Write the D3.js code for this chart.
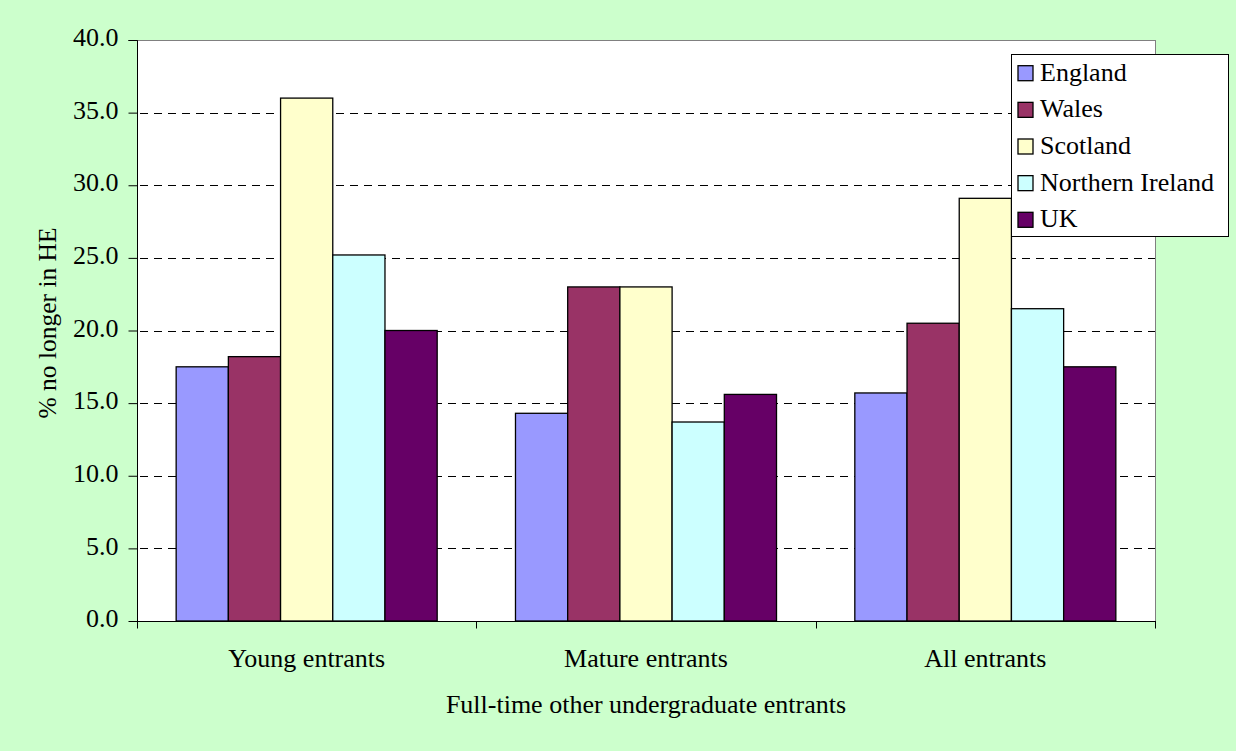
<!DOCTYPE html>
<html><head><meta charset="utf-8">
<script src="https://cdn.jsdelivr.net/npm/d3@7"></script>
<style>
html,body{margin:0;padding:0;background:#CCFFCC;}
svg{display:block;}
text{font-family:"Liberation Serif","DejaVu Serif",serif;fill:#000;}
</style></head>
<body>
<svg id="chart" width="1236" height="751"></svg>
<script>
const categories = ["Young entrants", "Mature entrants", "All entrants"];
const seriesNames = ["England", "Wales", "Scotland", "Northern Ireland", "UK"];
const seriesColors = ["#9999FF", "#993366", "#FFFFCC", "#CCFFFF", "#660066"];
const england = [17.5, 14.3, 15.7];
const wales = [18.2, 23.0, 20.5];
const scotland = [36.0, 23.0, 29.1];
const northernIreland = [25.2, 13.7, 21.5];
const uk = [20.0, 15.6, 17.5];
const yTicks = [0, 5, 10, 15, 20, 25, 30, 35, 40];
const xTitle = "Full-time other undergraduate entrants";
const yTitle = "% no longer in HE";

const seriesValues = [england, wales, scotland, northernIreland, uk];

const FS = 26;
const svg = d3.select("#chart");
const W = 1236, H = 751;
const m = {left: 137, right: 1155, top: 40, bottom: 621};

svg.append("rect").attr("x", 0).attr("y", 0).attr("width", W).attr("height", H).attr("fill", "#CCFFCC");

const x0 = d3.scaleBand().domain(categories).range([m.left, m.right]).paddingInner(0).paddingOuter(0);
const x1 = d3.scaleBand().domain(seriesNames).range([0, x0.bandwidth()]).paddingInner(0).paddingOuter(0.75);
const y = d3.scaleLinear().domain([0, 40]).range([m.bottom, m.top]);

// plot area
svg.append("rect").attr("x", m.left + 0.5).attr("y", m.top + 0.5).attr("width", m.right - m.left).attr("height", m.bottom - m.top)
  .attr("fill", "#fff").attr("stroke", "#808080").attr("stroke-width", 1);

// gridlines
svg.append("g").selectAll("line").data(yTicks.filter(t => t > 0 && t < 40)).join("line")
  .attr("x1", m.left + 3).attr("x2", m.right)
  .attr("y1", d => Math.round(y(d)) + 0.5).attr("y2", d => Math.round(y(d)) + 0.5)
  .attr("stroke", "#000").attr("stroke-dasharray", "8,6").attr("stroke-width", 1);

// bars
const groups = svg.append("g").selectAll("g").data(categories).join("g")
  .attr("transform", d => `translate(${x0(d)},0)`);
groups.selectAll("rect").data((c, ci) => seriesNames.map((s, si) => ({s, si, v: seriesValues[si][ci]})))
  .join("rect")
  .attr("x", d => x1(d.s))
  .attr("width", x1.bandwidth())
  .attr("y", d => y(d.v))
  .attr("height", d => y(0) - y(d.v))
  .attr("fill", d => seriesColors[d.si])
  .attr("stroke", "#000").attr("stroke-width", 1.3);

// y axis
const yAxis = d3.axisLeft(y).tickValues(yTicks).tickFormat(d3.format(".1f")).tickSize(9).tickPadding(10);
const ga = svg.append("g").attr("transform", `translate(${m.left + 0.5},0)`).call(yAxis);
ga.select(".domain").attr("stroke", "#000").attr("d", `M-9,${m.top + 0.5}H0V${m.bottom}`);
ga.selectAll(".tick line").attr("stroke", "#000");
ga.selectAll(".tick text").attr("font-size", FS).attr("dy", "0.22em");

// x axis
const gx = svg.append("g").attr("transform", `translate(0,${m.bottom + 0.5})`);
gx.append("line").attr("x1", m.left).attr("x2", m.right + 1).attr("stroke", "#000");
const tickXs = categories.map(c => x0(c)).concat([m.right]);
gx.selectAll("line.t").data(tickXs).join("line").attr("class", "t")
  .attr("x1", d => Math.round(d) + 0.5).attr("x2", d => Math.round(d) + 0.5).attr("y1", 0).attr("y2", 7).attr("stroke", "#000");
gx.selectAll("text").data(categories).join("text")
  .attr("x", d => x0(d) + x0.bandwidth() / 2).attr("y", 45)
  .attr("text-anchor", "middle").attr("font-size", FS).text(d => d);

// titles
svg.append("text").attr("x", (m.left + m.right) / 2).attr("y", 713).attr("text-anchor", "middle")
  .attr("font-size", FS).text(xTitle);
svg.append("text").attr("transform", `translate(56,323) rotate(-90)`)
  .attr("text-anchor", "middle").attr("font-size", 25.5).text(yTitle);

// legend
const lg = svg.append("g").attr("transform", "translate(1011,54)");
lg.append("rect").attr("x", 0.5).attr("y", 0.5).attr("width", 217).attr("height", 182)
  .attr("fill", "#fff").attr("stroke", "#000");
const items = lg.selectAll("g").data(seriesNames).join("g")
  .attr("transform", (d, i) => `translate(0,${26.7 + i * 36.65})`);
items.append("rect").attr("x", 7).attr("y", -15).attr("width", 15).attr("height", 15)
  .attr("fill", (d, i) => seriesColors[i]).attr("stroke", "#000").attr("stroke-width", 1.3);
items.append("text").attr("x", 29).attr("y", 0).attr("font-size", FS).text(d => d);
</script>
</body></html>
